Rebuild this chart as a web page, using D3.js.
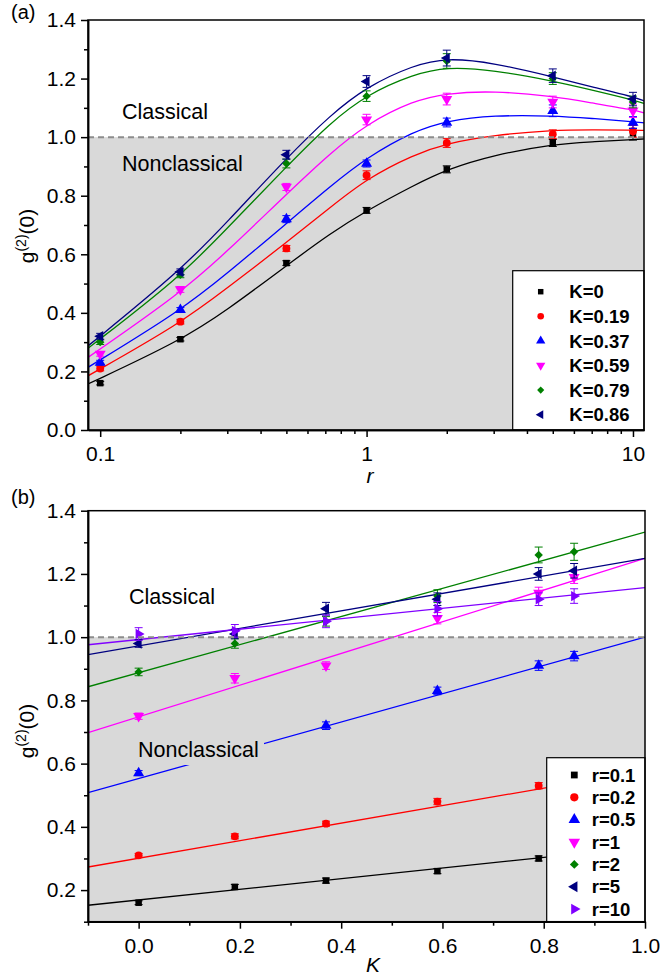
<!DOCTYPE html>
<html>
<head>
<meta charset="utf-8">
<script src="https://cdn.jsdelivr.net/npm/d3@7"></script>
<style>
  body { margin: 0; background: #fff; }
  text { font-family: Arial, "Liberation Sans", sans-serif; fill: #000; }
</style>
</head>
<body>
<div id="plot"></div>
<script>
// canvas
const w = 661;
const h = 979;

// data: g2(0) measured, rows = K, columns = r
const rValues = [0.1, 0.2, 0.5, 1, 2, 5, 10];
const kValues = [0, 0.19, 0.37, 0.59, 0.79, 0.86];
const g2 = [
  [0.16, 0.31, 0.57, 0.75, 0.89, 0.98, 1.01],
  [0.21, 0.37, 0.62, 0.87, 0.98, 1.01, 1.02],
  [0.23, 0.41, 0.72, 0.91, 1.05, 1.09, 1.05],
  [0.26, 0.48, 0.83, 1.06, 1.13, 1.12, 1.09],
  [0.30, 0.53, 0.91, 1.14, 1.26, 1.20, 1.12],
  [0.32, 0.54, 0.94, 1.19, 1.27, 1.21, 1.13]
];
const g2Err = [
  [0.006, 0.006, 0.008, 0.010, 0.012, 0.012, 0.020],
  [0.008, 0.008, 0.010, 0.015, 0.015, 0.015, 0.020],
  [0.008, 0.008, 0.012, 0.012, 0.015, 0.020, 0.020],
  [0.008, 0.010, 0.012, 0.018, 0.020, 0.020, 0.023],
  [0.008, 0.010, 0.015, 0.018, 0.025, 0.020, 0.020],
  [0.010, 0.010, 0.015, 0.020, 0.027, 0.023, 0.023]
];

// theory curves of panel (a)
const fitR = [0.09, 0.2, 0.3, 0.5, 0.73, 1, 1.5, 2, 3, 5, 7, 10, 11];
const fitA = [
  [0.157, 0.305, 0.410, 0.561, 0.671, 0.749, 0.835, 0.890, 0.939, 0.976, 0.984, 0.992, 0.994],
  [0.185, 0.364, 0.485, 0.640, 0.760, 0.858, 0.940, 0.979, 1.007, 1.024, 1.025, 1.024, 1.023],
  [0.214, 0.407, 0.535, 0.705, 0.832, 0.930, 1.020, 1.056, 1.075, 1.073, 1.064, 1.053, 1.049],
  [0.248, 0.467, 0.610, 0.805, 0.945, 1.045, 1.125, 1.150, 1.158, 1.140, 1.117, 1.093, 1.083],
  [0.279, 0.523, 0.689, 0.899, 1.049, 1.145, 1.215, 1.240, 1.229, 1.192, 1.161, 1.127, 1.115],
  [0.287, 0.544, 0.711, 0.928, 1.075, 1.172, 1.246, 1.271, 1.254, 1.206, 1.172, 1.138, 1.124]
];

// linear fits of panel (b): value at K=-0.1 and K=1.0
const fitK = [-0.1, 1.0];
const fitB = [
  [0.152, 0.337],
  [0.273, 0.578],
  [0.508, 1.000],
  [0.698, 1.249],
  [0.843, 1.332],
  [0.945, 1.249],
  [0.976, 1.157]
];

const colorsA = ["#000000", "#ff0000", "#0000ff", "#ff00ff", "#008000", "#000080"];
const colorsB = ["#000000", "#ff0000", "#0000ff", "#ff00ff", "#008000", "#000080", "#8000ff"];
const labelsA = ["K=0", "K=0.19", "K=0.37", "K=0.59", "K=0.79", "K=0.86"];
const labelsB = ["r=0.1", "r=0.2", "r=0.5", "r=1", "r=2", "r=5", "r=10"];

const yTicks = [0.0, 0.2, 0.4, 0.6, 0.8, 1.0, 1.2, 1.4];
const yTicksB = [0.2, 0.4, 0.6, 0.8, 1.0, 1.2, 1.4];
const xTicksA = [0.1, 1, 10];
const xTicksB = [0.0, 0.2, 0.4, 0.6, 0.8, 1.0];

const gray = "#d9d9d9";

const svg = d3.select("div#plot")
  .append("svg")
    .attr("width", w)
    .attr("height", h);

// marker shapes: square, circle, up, down, diamond, left, right
function marker(i, size) {
  const types = [d3.symbolSquare, d3.symbolCircle, d3.symbolTriangle, d3.symbolTriangle,
                 d3.symbolSquare, d3.symbolTriangle, d3.symbolTriangle];
  const rot = [0, 0, 0, 180, 45, -90, 90];
  const scl = [1, 1.15, 1.25, 1.25, 0.85, 1.1, 1.1];
  return {d: d3.symbol().type(types[i]).size(size * scl[i])(), rot: rot[i]};
}

function drawMarker(g, i, x, y, size, color) {
  const m = marker(i, size);
  g.append("path")
    .attr("d", m.d)
    .attr("transform", `translate(${x},${y}) rotate(${m.rot})`)
    .attr("fill", color);
}

function panel(P, y, clipId) {
  svg.append("clipPath").attr("id", clipId)
    .append("rect").attr("x", P.left).attr("y", P.top)
    .attr("width", P.right - P.left).attr("height", P.bottom - P.top);
  const g = svg.append("g");
  // nonclassical region
  g.append("rect")
    .attr("x", P.left).attr("y", y(1))
    .attr("width", P.right - P.left).attr("height", P.bottom - y(1))
    .attr("fill", gray);
  return g;
}

// ---------- panel (a) ----------
const A = {left: 88, right: 644, top: 20, bottom: 430};
const xA = d3.scaleLog().domain([0.09, 11]).range([A.left, A.right]);
const yA = d3.scaleLinear().domain([0, 1.4]).range([A.bottom, A.top]);

// ---------- panel (b) ----------
const B = {left: 88, right: 645, top: 510.7, bottom: 921.7};
const xB = d3.scaleLinear().domain([-0.1, 1.0]).range([B.left, B.right]);
const yB = d3.scaleLinear().domain([0.1, 1.4]).range([B.bottom, B.top]);

const gA = panel(A, yA, "clipA");
const gB = panel(B, yB, "clipB");

// region labels
gA.append("text").attr("x", 122).attr("y", 119).attr("font-size", 21.5).text("Classical");
gA.append("text").attr("x", 122).attr("y", 170.5).attr("font-size", 21.5).text("Nonclassical");
gB.append("text").attr("x", 129).attr("y", 604).attr("font-size", 21.5).text("Classical");

// fit curves (a)
const lineA = d3.line()
  .x(d => xA(d[0]))
  .y(d => yA(d[1]))
  .curve(d3.curveBasis);
fitA.forEach((row, i) => {
  gA.append("path")
    .attr("clip-path", "url(#clipA)")
    .attr("d", lineA(fitR.map((r, j) => [r, row[j]])))
    .attr("fill", "none")
    .attr("stroke", colorsA[i])
    .attr("stroke-width", 1.3);
});

// fit lines (b)
fitB.forEach((row, i) => {
  gB.append("line")
    .attr("clip-path", "url(#clipB)")
    .attr("x1", xB(fitK[0])).attr("x2", xB(fitK[1]))
    .attr("y1", yB(row[0])).attr("y2", yB(row[1]))
    .attr("stroke", colorsB[i])
    .attr("stroke-width", 1.3);
});

function errorBar(g, x, yTop, yBot, color) {
  g.append("line").attr("x1", x).attr("x2", x).attr("y1", yTop).attr("y2", yBot)
    .attr("stroke", color).attr("stroke-width", 1);
  [yTop, yBot].forEach(yy => {
    g.append("line").attr("x1", x - 4).attr("x2", x + 4).attr("y1", yy).attr("y2", yy)
      .attr("stroke", color).attr("stroke-width", 1);
  });
}

// points (a): series = K
g2.forEach((row, i) => {
  row.forEach((v, j) => {
    const px = xA(rValues[j]);
    errorBar(gA, px, yA(v + g2Err[i][j]), yA(v - g2Err[i][j]), colorsA[i]);
    drawMarker(gA, i, px, yA(v), 42, colorsA[i]);
  });
});

// points (b): series = r
rValues.forEach((r, j) => {
  kValues.forEach((k, i) => {
    const v = g2[i][j];
    const px = xB(k);
    errorBar(gB, px, yB(v + g2Err[i][j]), yB(v - g2Err[i][j]), colorsB[j]);
    drawMarker(gB, j, px, yB(v), 42, colorsB[j]);
  });
});

// text box over the blue line in (b)
gB.append("rect").attr("x", 135).attr("y", 737).attr("width", 129).attr("height", 28).attr("fill", gray);
gB.append("text").attr("x", 138).attr("y", 756.7).attr("font-size", 21.5).text("Nonclassical");

// dashed boundary g2 = 1
[[gA, A, yA], [gB, B, yB]].forEach(([g, P, y]) => {
  g.append("line")
    .attr("x1", P.left).attr("x2", P.right)
    .attr("y1", y(1)).attr("y2", y(1))
    .attr("stroke", "#8c8c8c")
    .attr("stroke-width", 2)
    .attr("stroke-dasharray", "6,4");
});

// legends
function legend(g, box, sx, tx, y0, dy, labels, colors, size) {
  g.append("rect")
    .attr("x", box[0]).attr("y", box[1])
    .attr("width", box[2] - box[0]).attr("height", box[3] - box[1])
    .attr("fill", "#fff").attr("stroke", "#000").attr("stroke-width", 1.2);
  labels.forEach((lab, i) => {
    drawMarker(g, i, sx, y0 + i * dy, size, colors[i]);
    g.append("text")
      .attr("x", tx).attr("y", y0 + i * dy)
      .attr("dy", "0.36em")
      .attr("font-size", 18.5)
      .attr("font-weight", "bold")
      .text(lab);
  });
}
legend(gA, [512.7, 270.7, A.right, A.bottom], 540.7, 569.3, 291.7, 24.6, labelsA, colorsA, 30);
legend(gB, [546.7, 757.7, B.right, B.bottom], 574.3, 591.7, 775, 22.35, labelsB, colorsB, 46);

// axes
function styleAxis(sel) {
  sel.selectAll("path").attr("stroke-width", 1.5);
  sel.selectAll("line").attr("stroke-width", 1.5);
  sel.selectAll("text").attr("font-size", 21).attr("fill", "#000")
    .style("font-family", "Arial, 'Liberation Sans', sans-serif");
}

// frame boxes
[A, B].forEach(P => {
  svg.append("rect")
    .attr("x", P.left).attr("y", P.top)
    .attr("width", P.right - P.left).attr("height", P.bottom - P.top)
    .attr("fill", "none").attr("stroke", "#000").attr("stroke-width", 1.5);
});

// (a) y axis
svg.append("g")
  .attr("transform", `translate(${A.left},0)`)
  .call(d3.axisLeft(yA).tickValues([0.1, 0.3, 0.5, 0.7, 0.9, 1.1, 1.3]).tickSize(4).tickSizeOuter(0).tickFormat(""))
  .call(styleAxis);
svg.append("g")
  .attr("transform", `translate(${A.left},0)`)
  .call(d3.axisLeft(yA).tickValues(yTicks).tickSize(7).tickSizeOuter(0).tickPadding(5).tickFormat(d3.format(".1f")))
  .call(styleAxis);

// (a) x axis, log
const minorA = [0.2, 0.3, 0.4, 0.5, 0.6, 0.7, 0.8, 0.9, 2, 3, 4, 5, 6, 7, 8, 9];
svg.append("g")
  .attr("transform", `translate(0,${A.bottom})`)
  .call(d3.axisBottom(xA).tickValues(minorA).tickSize(4).tickSizeOuter(0).tickFormat(""))
  .call(styleAxis);
svg.append("g")
  .attr("transform", `translate(0,${A.bottom})`)
  .call(d3.axisBottom(xA).tickValues(xTicksA).tickSize(7).tickSizeOuter(0).tickPadding(9).tickFormat(d => d))
  .call(styleAxis);

// (b) y axis
svg.append("g")
  .attr("transform", `translate(${B.left},0)`)
  .call(d3.axisLeft(yB).tickValues([0.1, 0.3, 0.5, 0.7, 0.9, 1.1, 1.3]).tickSize(4).tickSizeOuter(0).tickFormat(""))
  .call(styleAxis);
svg.append("g")
  .attr("transform", `translate(${B.left},0)`)
  .call(d3.axisLeft(yB).tickValues(yTicksB).tickSize(7).tickSizeOuter(0).tickPadding(5).tickFormat(d3.format(".1f")))
  .call(styleAxis);

// (b) x axis
svg.append("g")
  .attr("transform", `translate(0,${B.bottom})`)
  .call(d3.axisBottom(xB).tickValues([-0.1, 0.1, 0.3, 0.5, 0.7, 0.9]).tickSize(4).tickSizeOuter(0).tickFormat(""))
  .call(styleAxis);
svg.append("g")
  .attr("transform", `translate(0,${B.bottom})`)
  .call(d3.axisBottom(xB).tickValues(xTicksB).tickSize(7).tickSizeOuter(0).tickPadding(9).tickFormat(d3.format(".1f")))
  .call(styleAxis);

// axis titles
function yTitle(cy) {
  const t = svg.append("text")
    .attr("transform", `translate(34,${cy}) rotate(-90)`)
    .attr("text-anchor", "middle")
    .attr("font-size", 21);
  t.append("tspan").text("g");
  t.append("tspan").attr("dy", -8).attr("font-size", 14).text("(2)");
  t.append("tspan").attr("dy", 8).text("(0)");
}
yTitle(236);
yTitle(731);

svg.append("text").attr("x", 370).attr("y", 483).attr("text-anchor", "middle")
  .attr("font-size", 21).attr("font-style", "italic").text("r");
svg.append("text").attr("x", 373).attr("y", 972).attr("text-anchor", "middle")
  .attr("font-size", 21).attr("font-style", "italic").text("K");

// panel labels
svg.append("text").attr("x", 11).attr("y", 19).attr("font-size", 20).text("(a)");
svg.append("text").attr("x", 11).attr("y", 504).attr("font-size", 20).text("(b)");
</script>
</body>
</html>
